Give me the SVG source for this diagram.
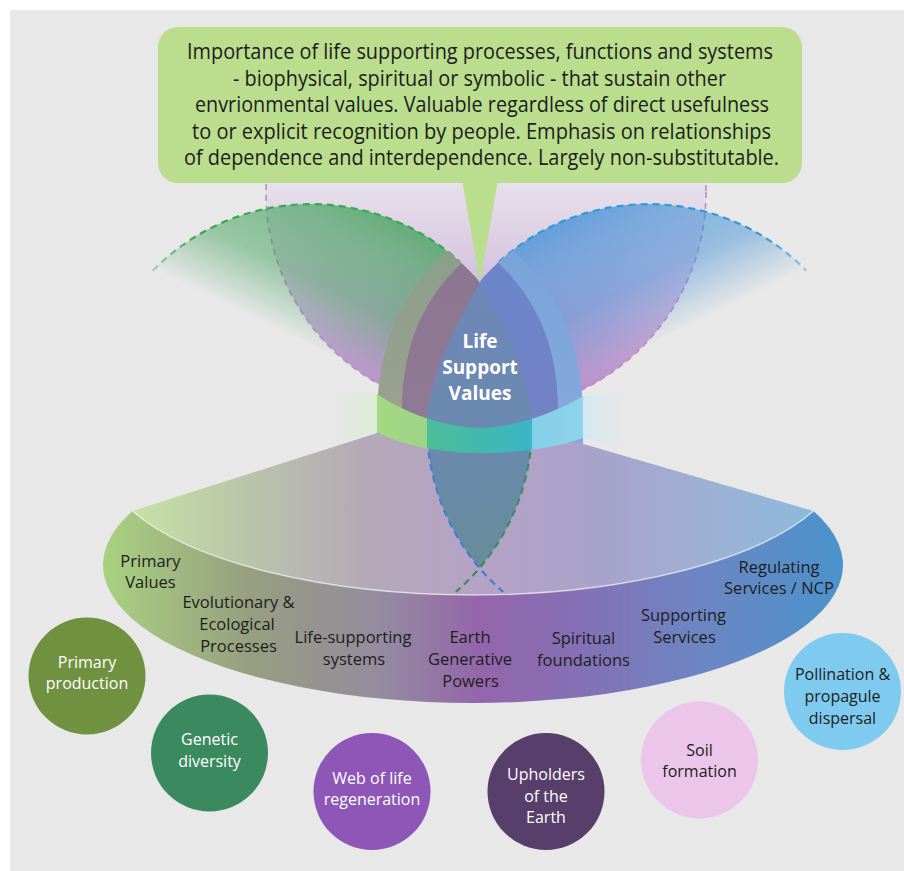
<svg xmlns="http://www.w3.org/2000/svg" width="904" height="871" viewBox="0 0 904 871">
<defs>
<style>
.cap{font-family:"Open Sans","Noto Sans","DejaVu Sans",sans-serif;font-size:21px;fill:#1c1c1c;text-anchor:middle}
.lbl{font-family:"Open Sans","Noto Sans","DejaVu Sans",sans-serif;font-size:16.5px;fill:#1e1e1e;text-anchor:middle}
.ct{font-family:"Open Sans","Noto Sans","DejaVu Sans",sans-serif;font-size:16px;text-anchor:middle}
.w{fill:#ffffff}
.d{fill:#1c1c1c}
.core{font-family:"Open Sans","Noto Sans","DejaVu Sans",sans-serif;font-size:19px;font-weight:700;fill:#ffffff;text-anchor:middle}
.dash{fill:none;stroke-width:2.2;stroke-dasharray:7 5}
</style>
<linearGradient id="gP" gradientUnits="userSpaceOnUse" x1="0" y1="175" x2="0" y2="412">
<stop offset="0" stop-color="#e9e3ec"/><stop offset="0.35" stop-color="#d9c9e1"/><stop offset="0.7" stop-color="#c1a2d1"/><stop offset="1" stop-color="#b38bc7"/>
</linearGradient>
<linearGradient id="gG" gradientUnits="userSpaceOnUse" x1="260" y1="321.6" x2="328.2" y2="182.1">
<stop offset="0" stop-color="#3a9e55" stop-opacity="0"/><stop offset="0.1" stop-color="#3a9e55" stop-opacity="0.12"/><stop offset="0.39" stop-color="#3a9e55" stop-opacity="0.46"/><stop offset="0.76" stop-color="#3a9e55" stop-opacity="0.6"/><stop offset="1" stop-color="#3a9e55" stop-opacity="0.75"/>
</linearGradient>
<linearGradient id="gB" gradientUnits="userSpaceOnUse" x1="700" y1="321.6" x2="631.8" y2="182.1">
<stop offset="0" stop-color="#3a8cd6" stop-opacity="0"/><stop offset="0.1" stop-color="#3a8cd6" stop-opacity="0.12"/><stop offset="0.39" stop-color="#3a8cd6" stop-opacity="0.46"/><stop offset="0.76" stop-color="#3a8cd6" stop-opacity="0.6"/><stop offset="1" stop-color="#3a8cd6" stop-opacity="0.75"/>
</linearGradient>
<linearGradient id="sG" gradientUnits="userSpaceOnUse" x1="145" y1="0" x2="200" y2="0">
<stop offset="0" stop-color="#34a853" stop-opacity="0.3"/><stop offset="1" stop-color="#34a853"/>
</linearGradient>
<linearGradient id="sB" gradientUnits="userSpaceOnUse" x1="815" y1="0" x2="760" y2="0">
<stop offset="0" stop-color="#2f9ad8" stop-opacity="0.3"/><stop offset="1" stop-color="#2f9ad8"/>
</linearGradient>
<linearGradient id="gOl" x1="0" y1="0" x2="0" y2="1"><stop offset="0" stop-color="#879f89"/><stop offset="1" stop-color="#a3a192"/></linearGradient>
<linearGradient id="gMa" x1="0" y1="0" x2="0" y2="1"><stop offset="0" stop-color="#8b758f"/><stop offset="1" stop-color="#907b98"/></linearGradient>
<linearGradient id="gLb" x1="0" y1="0" x2="0" y2="1"><stop offset="0" stop-color="#78a2da"/><stop offset="1" stop-color="#88abd9"/></linearGradient>
<linearGradient id="gIn" x1="0" y1="0" x2="0" y2="1"><stop offset="0" stop-color="#6a86ca"/><stop offset="1" stop-color="#7780c4"/></linearGradient>
<linearGradient id="gLens" gradientUnits="userSpaceOnUse" x1="455" y1="300" x2="505" y2="565">
<stop offset="0" stop-color="#6d87b7"/><stop offset="0.5" stop-color="#6b89b0"/><stop offset="1" stop-color="#678c98"/>
</linearGradient>
<linearGradient id="gBand" gradientUnits="userSpaceOnUse" x1="377" y1="0" x2="583" y2="0">
<stop offset="0" stop-color="#a4d882"/><stop offset="0.243" stop-color="#9cd486"/><stop offset="0.243" stop-color="#4cbd98"/><stop offset="0.5" stop-color="#42b9ad"/><stop offset="0.752" stop-color="#3cb5c6"/><stop offset="0.752" stop-color="#84cfe8"/><stop offset="1" stop-color="#8ed3ec"/>
</linearGradient>
<linearGradient id="gGlowL" gradientUnits="userSpaceOnUse" x1="335" y1="0" x2="377" y2="0">
<stop offset="0" stop-color="#d2efc8" stop-opacity="0"/><stop offset="1" stop-color="#d2efc8" stop-opacity="0.6"/>
</linearGradient>
<linearGradient id="gGlowR" gradientUnits="userSpaceOnUse" x1="625" y1="0" x2="583" y2="0">
<stop offset="0" stop-color="#c6e9f3" stop-opacity="0"/><stop offset="1" stop-color="#c6e9f3" stop-opacity="0.6"/>
</linearGradient>
<linearGradient id="gTop" gradientUnits="userSpaceOnUse" x1="132" y1="0" x2="813" y2="0">
<stop offset="0" stop-color="#c6e2a4"/><stop offset="0.17" stop-color="#bac4aa"/><stop offset="0.35" stop-color="#b4a8b8"/><stop offset="0.5" stop-color="#b5a2c5"/><stop offset="0.69" stop-color="#a8a3cb"/><stop offset="0.84" stop-color="#9eb0d3"/><stop offset="1" stop-color="#8cbadc"/>
</linearGradient>
<linearGradient id="gRim" gradientUnits="userSpaceOnUse" x1="103" y1="0" x2="843" y2="0">
<stop offset="0" stop-color="#a9d180"/><stop offset="0.2" stop-color="#979e80"/><stop offset="0.375" stop-color="#948ba0"/><stop offset="0.51" stop-color="#9465aa"/><stop offset="0.645" stop-color="#8570b5"/><stop offset="0.81" stop-color="#6c86c3"/><stop offset="1" stop-color="#4a93cc"/>
</linearGradient>
<clipPath id="cG"><circle cx="311" cy="425" r="221"/></clipPath>
<clipPath id="cB"><circle cx="648" cy="425" r="221"/></clipPath>
<clipPath id="cTop"><rect x="0" y="60" width="904" height="811"/></clipPath>
</defs>

<rect x="10" y="10" width="894" height="861" fill="#e8e8e8"/>

<g id="petals">
<g clip-path="url(#cTop)">
<circle cx="486" cy="192" r="220" fill="url(#gP)"/>
<circle cx="486" cy="192" r="220" fill="none" stroke="#b58dca" stroke-width="1.6" stroke-dasharray="6 5"/>
</g>
<circle cx="311" cy="425" r="221" fill="url(#gG)"/>
<circle cx="648" cy="425" r="221" fill="url(#gB)"/>
<path class="dash" stroke="url(#sG)" d="M152.8,270.7 A221,221 0 0 1 460,262"/>
<path class="dash" stroke="url(#sB)" d="M499,262 A221,221 0 0 1 806.2,270.7"/>
<g clip-path="url(#cG)">
<path d="M475,230 C420,265 380,320 377,410 L377,470 L481,470 L481,230 Z" fill="url(#gOl)"/>
<path d="M490,240 C440,275 402,325 402,410 L402,470 L481,470 L481,240 Z" fill="url(#gMa)"/>
</g>
<g clip-path="url(#cB)">
<path d="M485,230 C540,265 580,320 583,410 L583,470 L479,470 L479,230 Z" fill="url(#gLb)"/>
<path d="M470,240 C520,275 558,325 558,410 L558,470 L479,470 L479,240 Z" fill="url(#gIn)"/>
</g>
</g>

<g id="fan">
<path d="M377,433 L132.5,511 A370,138 0 0 0 813.5,511 L580,443 Z" fill="url(#gTop)"/>
<path d="M132.5,511 A370,138 0 1 0 813.5,511 A370,138 0 0 1 132.5,511 Z" fill="url(#gRim)"/>
<path d="M132.5,511 A370,138 0 0 0 813.5,511" fill="none" stroke="#ffffff" stroke-opacity="0.6" stroke-width="1.5"/>
</g>

<g id="life-support-values">
<path d="M480,282 C465,310 428,370 427,425 A221,221 0 0 0 479.5,568 A221,221 0 0 0 532,425 C531,370 495,310 480,282 Z" fill="url(#gLens)"/>
<path d="M338,392 L377,394 L377,432 L338,444 Z" fill="url(#gGlowL)"/>
<path d="M583,396 L622,394 L622,446 L583,438 Z" fill="url(#gGlowR)"/>
<path d="M377,394 C400,410 440,427 480,428 C520,427 560,410 583,396 L583,438 C555,448 520,453 480,453 C440,453 400,445 377,432 Z" fill="url(#gBand)"/>
<text class="core" x="480" y="348">Life</text>
<text class="core" x="480" y="374">Support</text>
<text class="core" x="480" y="400">Values</text>
</g>

<g id="connectors">
<path class="dash" stroke="#3d80d2" d="M428.7,452 A221,221 0 0 0 503.2,592"/>
<path class="dash" stroke="#3e8c5c" d="M530.3,452 A221,221 0 0 1 455.8,592"/>
</g>

<g id="callout">
<path d="M462,180 L498,180 L480,283 Z" fill="#bade8d"/>
<rect x="158" y="27" width="644" height="156" rx="20" fill="#bade8d"/>
<text class="cap" x="480" y="59" textLength="586" lengthAdjust="spacingAndGlyphs">Importance of life supporting processes, functions and systems</text>
<text class="cap" x="479.5" y="86" textLength="493" lengthAdjust="spacingAndGlyphs">- biophysical, spiritual or symbolic - that sustain other</text>
<text class="cap" x="482" y="112" textLength="574" lengthAdjust="spacingAndGlyphs">envrionmental values. Valuable regardless of direct usefulness</text>
<text class="cap" x="481.5" y="139" textLength="579" lengthAdjust="spacingAndGlyphs">to or explicit recognition by people. Emphasis on relationships</text>
<text class="cap" x="481.5" y="165" textLength="595" lengthAdjust="spacingAndGlyphs">of dependence and interdependence. Largely non-substitutable.</text>
</g>

<g id="band-labels">
<g id="primary-values"><text class="lbl" x="150.5" y="567">Primary</text><text class="lbl" x="150.5" y="588">Values</text></g>
<g id="evolutionary"><text class="lbl" x="238.5" y="608">Evolutionary &amp;</text><text class="lbl" x="237" y="630">Ecological</text><text class="lbl" x="238.5" y="652">Processes</text></g>
<g id="life-supporting"><text class="lbl" x="353" y="643">Life-supporting</text><text class="lbl" x="354" y="665">systems</text></g>
<g id="earth-generative"><text class="lbl" x="470" y="643">Earth</text><text class="lbl" x="470" y="665">Generative</text><text class="lbl" x="470.5" y="687">Powers</text></g>
<g id="spiritual"><text class="lbl" x="583.5" y="644">Spiritual</text><text class="lbl" x="583.5" y="666">foundations</text></g>
<g id="supporting"><text class="lbl" x="683.5" y="621">Supporting</text><text class="lbl" x="684.5" y="643">Services</text></g>
<g id="regulating"><text class="lbl" x="779" y="573">Regulating</text><text class="lbl" x="779" y="594">Services / NCP</text></g>
</g>

<g id="primary-production"><circle cx="87" cy="676" r="58.5" fill="#6f9140"/><text class="ct w" x="87" y="668">Primary</text><text class="ct w" x="87" y="689">production</text></g>
<g id="genetic-diversity"><circle cx="209.5" cy="753" r="58.5" fill="#3b8a5f"/><text class="ct w" x="209.5" y="745">Genetic</text><text class="ct w" x="209.5" y="767">diversity</text></g>
<g id="web-of-life"><circle cx="372" cy="791.5" r="58.5" fill="#8d56b7"/><text class="ct w" x="372" y="784">Web of life</text><text class="ct w" x="372" y="805">regeneration</text></g>
<g id="upholders"><circle cx="546" cy="791.5" r="58.5" fill="#583e6b"/><text class="ct w" x="546" y="780">Upholders</text><text class="ct w" x="546" y="802">of the</text><text class="ct w" x="546" y="823">Earth</text></g>
<g id="soil-formation"><circle cx="699.5" cy="760" r="58.5" fill="#ecc6ea"/><text class="ct d" x="699.5" y="756">Soil</text><text class="ct d" x="699.5" y="777">formation</text></g>
<g id="pollination"><circle cx="842.5" cy="691.5" r="58.5" fill="#7ecbef"/><text class="ct d" x="842.5" y="680">Pollination &amp;</text><text class="ct d" x="842.5" y="702">propagule</text><text class="ct d" x="842.5" y="724">dispersal</text></g>
</svg>
